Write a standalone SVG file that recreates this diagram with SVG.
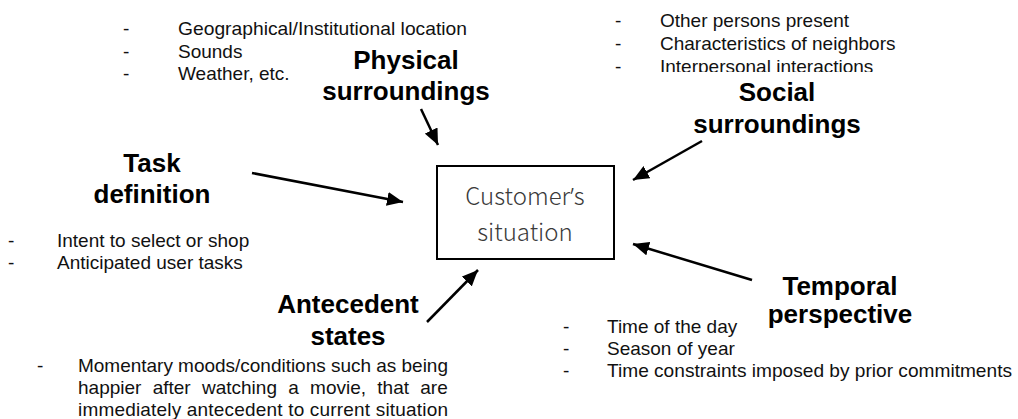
<svg xmlns="http://www.w3.org/2000/svg" width="1018" height="419" viewBox="0 0 1018 419">
<style>
.b{font-family:"Liberation Sans",Arial,sans-serif;font-size:19px;fill:#111}
.h{font-family:"Liberation Sans",Arial,sans-serif;font-size:26px;font-weight:bold;fill:#000;text-anchor:middle}
.c{font-family:"Noto Sans CJK SC","Noto Sans",sans-serif;font-size:24px;font-weight:300;fill:#3a3a3a;text-anchor:middle}
.ap{font-family:"Noto Sans","Liberation Sans",sans-serif}
.a{stroke:#000;stroke-width:2.5;fill:none;marker-end:url(#ah)}
</style>
<defs>
<marker id="ah" viewBox="0 0 16 14" refX="16" refY="7" markerWidth="16" markerHeight="14" markerUnits="userSpaceOnUse" orient="auto">
<path d="M0,0 L16,7 L0,14 z" fill="#000"/>
</marker>
<clipPath id="cl"><rect x="600" y="0" width="300" height="72"/></clipPath>
</defs>
<rect width="1018" height="419" fill="#fff"/>
<g id="center">
<rect x="437" y="166" width="177" height="93" fill="#fff" stroke="#000" stroke-width="2"/>
<text class="c" x="525" y="205">Customer<tspan class="ap">’</tspan>s</text>
<text class="c" x="525" y="241">situation</text>
</g>
<g id="physical">
<text class="b" x="123" y="35">-</text>
<text class="b" x="123" y="58">-</text>
<text class="b" x="123" y="80">-</text>
<text class="b" x="178" y="35" textLength="289" lengthAdjust="spacingAndGlyphs">Geographical/Institutional location</text>
<text class="b" x="178" y="58">Sounds</text>
<text class="b" x="178" y="80">Weather, etc.</text>
<text class="h" x="406" y="69">Physical</text>
<text class="h" x="406" y="100">surroundings</text>
</g>
<g id="social">
<text class="b" x="615" y="27">-</text>
<text class="b" x="615" y="50">-</text>
<text class="b" x="615" y="73">-</text>
<text class="b" x="660" y="27">Other persons present</text>
<text class="b" x="660" y="50">Characteristics of neighbors</text>
<text class="b" x="660" y="73" clip-path="url(#cl)">Interpersonal interactions</text>
<text class="h" x="777" y="101">Social</text>
<text class="h" x="777" y="133">surroundings</text>
</g>
<g id="task">
<text class="h" x="152" y="172">Task</text>
<text class="h" x="152" y="203">definition</text>
<text class="b" x="8" y="247">-</text>
<text class="b" x="8" y="269">-</text>
<text class="b" x="57" y="247">Intent to select or shop</text>
<text class="b" x="57" y="269">Anticipated user tasks</text>
</g>
<g id="antecedent">
<text class="h" x="348" y="313">Antecedent</text>
<text class="h" x="348" y="345">states</text>
<text class="b" x="37" y="372">-</text>
<text class="b" x="78" y="372" textLength="370" lengthAdjust="spacing">Momentary moods/conditions such as being</text>
<text class="b" x="78" y="394" word-spacing="6">happier after watching a movie, that are</text>
<text class="b" x="78" y="416" textLength="370" lengthAdjust="spacing">immediately antecedent to current situation</text>
</g>
<g id="temporal">
<text class="h" x="840" y="295">Temporal</text>
<text class="h" x="840" y="323">perspective</text>
<text class="b" x="563" y="333">-</text>
<text class="b" x="563" y="355">-</text>
<text class="b" x="563" y="377">-</text>
<text class="b" x="607" y="333">Time of the day</text>
<text class="b" x="607" y="355">Season of year</text>
<text class="b" x="607" y="377" textLength="405" lengthAdjust="spacingAndGlyphs">Time constraints imposed by prior commitments</text>
</g>
<g id="connectors">
<line class="a" x1="421" y1="109" x2="438" y2="145"/>
<line class="a" x1="702" y1="141" x2="633" y2="180"/>
<line class="a" x1="252" y1="173" x2="403" y2="202"/>
<line class="a" x1="752" y1="280" x2="633" y2="244"/>
<line class="a" x1="427" y1="322" x2="478" y2="270"/>
</g>
</svg>
